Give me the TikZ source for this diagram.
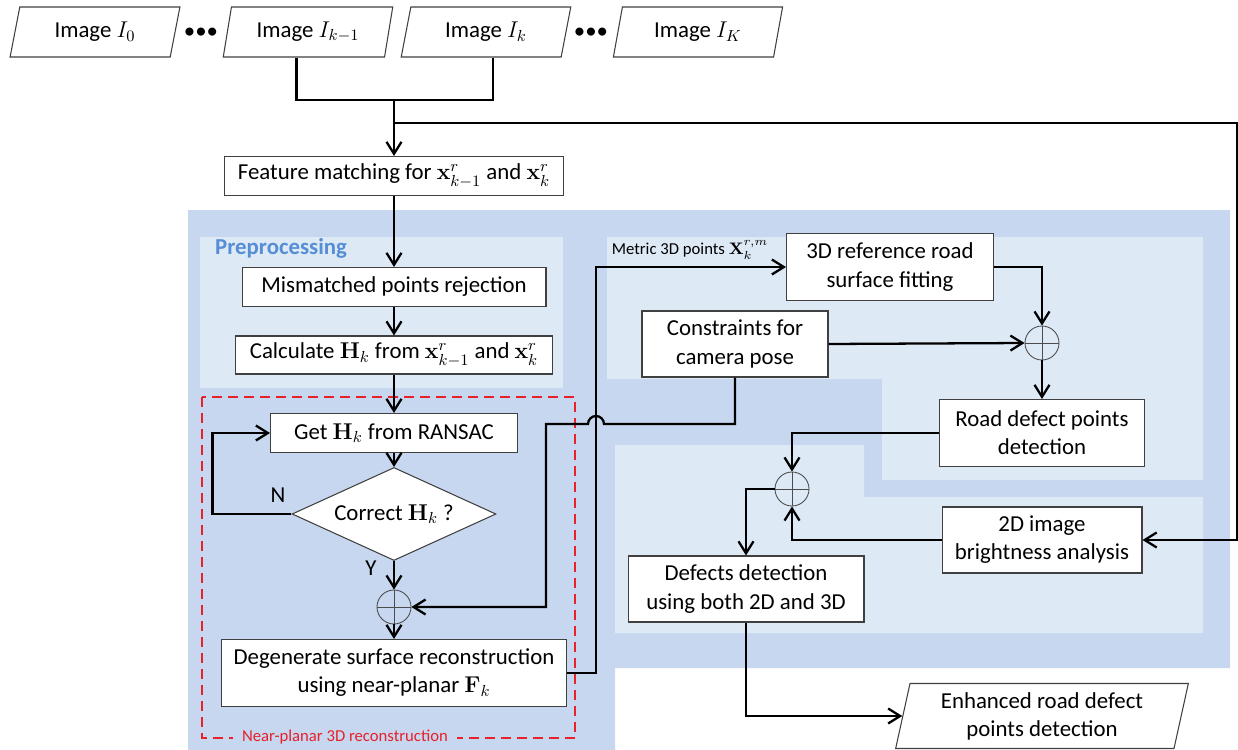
\documentclass[tikz,border=0pt]{standalone}
\usepackage{fix-cm}
\usepackage[no-math]{fontspec}
\setmainfont{Carlito}
\usepackage{amsmath,amssymb}
\usetikzlibrary{shapes.geometric,arrows.meta}
\definecolor{bgdark}{HTML}{C6D7EF}
\definecolor{bglight}{HTML}{DEE9F6}
\definecolor{prepblue}{HTML}{558ED5}
\definecolor{nearred}{HTML}{E8202A}

\begin{document}
\begin{tikzpicture}[x=0.02cm,y=-0.02cm,
    >={Straight Barb[length=2.4mm,width=3mm]},
    font=\fontsize{13}{16}\selectfont,
    stepbox/.style={draw=black!75,fill=white,line width=0.6pt,inner sep=0pt,align=center},
    iobox/.style={trapezium,trapezium left angle=75,trapezium right angle=105,
        trapezium stretches=true,draw=black!75,fill=white,line width=0.6pt,
        inner sep=0pt,minimum width=3.4cm,minimum height=1cm},
    decision/.style={diamond,aspect=2.2,draw=black!75,fill=white,line width=0.6pt,
        inner sep=0pt,minimum width=4.08cm,minimum height=1.86cm},
    summer/.style={circle,draw=black!70,line width=0.5pt,minimum size=0.68cm,inner sep=0pt,
        path picture={\draw[black!70,line width=0.5pt]
          (path picture bounding box.north) -- (path picture bounding box.south)
          (path picture bounding box.west) -- (path picture bounding box.east);}},
    flow/.style={line width=1.3pt,->},
    link/.style={line width=1.3pt}]
    \useasboundingbox (0,0) rectangle (1238,750);
    % background panels
    \fill[bgdark] (188,210) -- (1230,210) -- (1230,668) -- (615,668) -- (615,750) -- (188,750) -- cycle;
    \fill[bglight] (200,237) rectangle (563,388);
    \fill[bglight] (607,237) -- (1203,237) -- (1203,480) -- (882,480) -- (882,379) -- (607,379) -- cycle;
    \fill[bglight] (615,445) -- (864,445) -- (864,497) -- (1203,497) -- (1203,633) -- (615,633) -- cycle;
    \node[prepblue,font=\fontsize{13}{16}\selectfont\bfseries,anchor=west] (prep) at (209,248) {Preprocessing};
    % near-planar frame
    \draw[nearred,line width=1.1pt,dash pattern=on 0.2cm off 0.12cm] (202,397) rectangle (575,738);
    \node[nearred,fill=bgdark,font=\fontsize{9.5}{11}\selectfont,inner xsep=5pt,inner ysep=1pt] (nearlbl) at (345,737) {Near-planar 3D reconstruction};

    % input images
    \node[iobox] (img0) at (95,32) {Image $I_0$};
    \node (dots1) at (201,33) {\textbullet\textbullet\textbullet};
    \node[iobox] (imgkm) at (308,32) {Image $I_{k-1}$};
    \node[iobox] (imgk) at (486,32) {Image $I_k$};
    \node (dots2) at (591,33) {\textbullet\textbullet\textbullet};
    \node[iobox] (imgK) at (698,32) {Image $I_K$};
    \coordinate (merge) at (394,100);
    \coordinate (split) at (394,123);
    \coordinate (colR) at (1237,123);

    % left column
    \node[stepbox,minimum width=6.78cm,minimum height=0.78cm] (feat) at (394,176) {Feature matching for $\mathbf{x}_{k-1}^{r}$ and $\mathbf{x}_{k}^{r}$};
    \node[stepbox,minimum width=6.08cm,minimum height=0.78cm] (mis) at (394,287) {Mismatched points rejection};
    \node[stepbox,minimum width=6.34cm,minimum height=0.76cm] (calc) at (394,355) {Calculate $\mathbf{H}_k$ from $\mathbf{x}_{k-1}^{r}$ and $\mathbf{x}_{k}^{r}$};
    \node[stepbox,minimum width=4.94cm,minimum height=0.78cm] (ransac) at (394,433) {Get $\mathbf{H}_k$ from RANSAC};
    \node[decision] (check) at (394,514) {Correct $\mathbf{H}_k$ ?};
    \node (lblN) at (278,495) {N};
    \node (lblY) at (371,568) {Y};
    \node[summer] (sumA) at (394,607) {};
    \node[stepbox,minimum width=6.9cm,minimum height=1.34cm] (degen) at (394,673) {Degenerate surface reconstruction\\using near-planar $\mathbf{F}_k$};

    % right part
    \node[font=\fontsize{9.5}{11}\selectfont] (metric) at (690,250) {Metric 3D points $\mathbf{X}_k^{r,m}$};
    \node[stepbox,minimum width=4.14cm,minimum height=1.34cm] (fit) at (890,267) {3D reference road\\surface fitting};
    \node[stepbox,minimum width=3.72cm,minimum height=1.32cm] (pose) at (735,344) {Constraints for\\camera pose};
    \node[summer] (sumB) at (1042,343) {};
    \node[stepbox,minimum width=4.1cm,minimum height=1.34cm] (road) at (1042,433) {Road defect points\\detection};
    \node[summer] (sumC) at (792,489) {};
    \node[stepbox,minimum width=4cm,minimum height=1.32cm] (bright) at (1042,540) {2D image\\brightness analysis};
    \node[stepbox,minimum width=4.72cm,minimum height=1.32cm] (both) at (746,589) {Defects detection\\using both 2D and 3D};
    \node[iobox,trapezium left angle=77,trapezium right angle=103,minimum width=5.86cm,
        minimum height=1.3cm,align=center] (enh) at (1042,716) {Enhanced road defect\\points detection};

    % connectors
    \draw[link] ([xshift=-0.23cm]imgkm.south) |- (merge) -| ([xshift=0.14cm]imgk.south);
    \draw[flow] (merge) -- (feat.north);
    \draw[flow] (split) -- (colR) |- (bright.east);
    \draw[flow] (feat) -- (mis);
    \draw[flow] (mis) -- (calc);
    \draw[flow] (calc) -- (ransac);
    \draw[flow] (ransac) -- (check);
    \draw[flow] (check) -- (sumA);
    \draw[flow] (sumA) -- (degen);
    \draw[flow] (check.west) -- ++(-79,0) |- (ransac.west);
    \draw[flow] (pose.south) |- (604,424) arc[start angle=0,end angle=-180,radius=8] -- (546,424) |- (sumA.east);
    \draw[flow] (degen.east) -- (596,673) |- (fit.west);
    \draw[flow] (fit.east) -| (sumB.north);
    \draw[flow] (pose.east) -- (sumB.west);
    \draw[flow] (sumB) -- (road);
    \draw[flow] (road.west) -| (sumC.north);
    \draw[flow] (bright.west) -| (sumC.south);
    \draw[flow] (sumC.west) -| (both.north);
    \draw[flow] (both.south) |- (enh.west);
\end{tikzpicture}
\end{document}
